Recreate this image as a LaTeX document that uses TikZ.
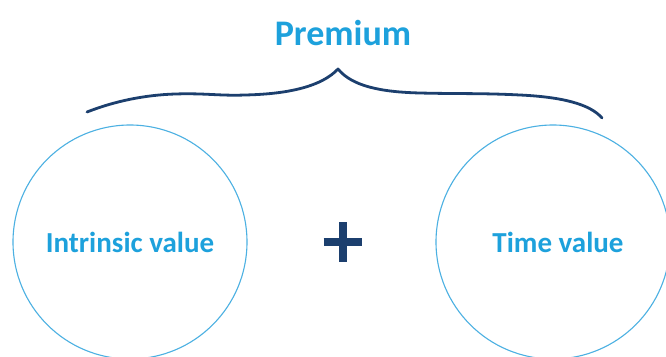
\documentclass[tikz,border=0pt]{standalone}
\usepackage{fontspec}
\setmainfont{Carlito}
\definecolor{navy}{HTML}{1C3F6E}
\definecolor{txtblue}{HTML}{1DA1DC}
\definecolor{ringblue}{HTML}{4BB0E2}
\begin{document}
\begin{tikzpicture}[x=1pt,y=-1pt,
  ring/.style={draw=ringblue,line width=1.1pt,circle,minimum size=234pt,inner sep=0pt},
  lbl/.style={text=txtblue,font=\bfseries\fontsize{29}{32}\selectfont},
  bracestroke/.style={draw=navy,line width=2.8pt,line cap=round,line join=round},
  plusbar/.style={draw=navy,line width=8pt}]
\useasboundingbox (0,0) rectangle (666,356);
\fill[white] (0,0) rectangle (666,356);
\node[text=txtblue,font=\bfseries\fontsize{36}{40}\selectfont] (title) at (343,33) {Premium};
\node[ring] (left) at (130,242) {};
\node[ring] (right) at (553,242) {};
\node[lbl] (ltext) at (130,242) {Intrinsic value};
\node[lbl] (rtext) at (558,242) {Time value};
\coordinate (plus) at (342.5,241.5);
\draw[plusbar] ([xshift=-19pt]plus) -- ([xshift=19pt]plus);
\draw[plusbar] ([yshift=-20pt]plus) -- ([yshift=20pt]plus);
\draw[bracestroke] (87,112) .. controls (115,101) and (145,95) .. (175,94)
  .. controls (205,93) and (220,96) .. (245,95)
  .. controls (290,94) and (322,86) .. (338,69)
  .. controls (352,86) and (380,92) .. (420,93)
  .. controls (460,94) and (480,93) .. (520,95)
  .. controls (562,97) and (590,104) .. (602,118);
\end{tikzpicture}
\end{document}
